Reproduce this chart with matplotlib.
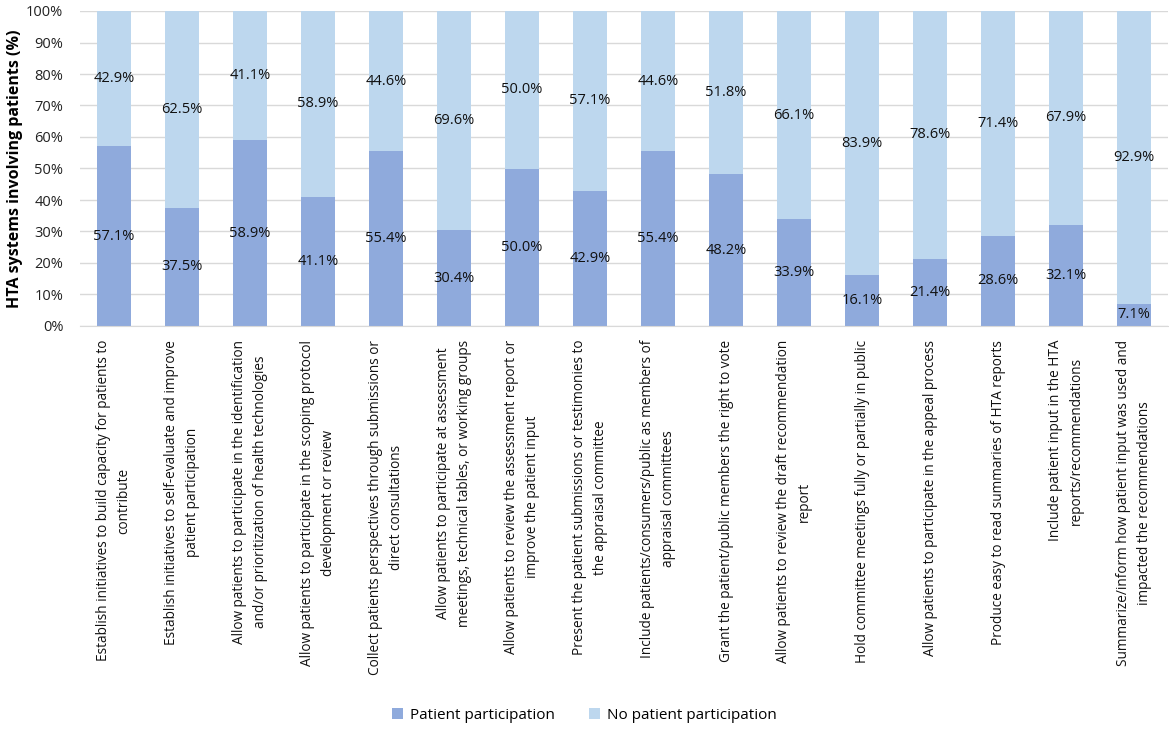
import numpy as np
import matplotlib.pyplot as plt

labels = [
    "Establish initiatives to build capacity for patients to\ncontribute",
    "Establish initiatives to self-evaluate and improve\npatient participation",
    "Allow patients to participate in the identification\nand/or prioritization of health technologies",
    "Allow patients to participate in the scoping protocol\ndevelopment or review",
    "Collect patients perspectives through submissions or\ndirect consultations",
    "Allow patients to participate at assessment\nmeetings, technical tables, or working groups",
    "Allow patients to review the assessment report or\nimprove the patient input",
    "Present the patient submissions or testimonies to\nthe appraisal committee",
    "Include patients/consumers/public as members of\nappraisal committees",
    "Grant the patient/public members the right to vote",
    "Allow patients to review the draft recommendation\nreport",
    "Hold committee meetings fully or partially in public",
    "Allow patients to participate in the appeal process",
    "Produce easy to read summaries of HTA reports",
    "Include patient input in the HTA\nreports/recommendations",
    "Summarize/inform how patient input was used and\nimpacted the recommendations",
]
patient = [57.1, 37.5, 58.9, 41.1, 55.4, 30.4, 50.0, 42.9, 55.4, 48.2, 33.9, 16.1, 21.4, 28.6, 32.1, 7.1]
no_patient = [42.9, 62.5, 41.1, 58.9, 44.6, 69.6, 50.0, 57.1, 44.6, 51.8, 66.1, 83.9, 78.6, 71.4, 67.9, 92.9]

dark = "#8FAADC"
light = "#BDD7EE"

plt.rcParams['font.family'] = ['Open Sans', 'DejaVu Sans']

fig = plt.figure(figsize=(11.69, 7.33), dpi=100)
ax = fig.add_axes([80/1169, 1-326/733, 1088/1169, 315/733])

x = np.arange(len(labels))
ax.bar(x, patient, width=0.5, color=dark, label="Patient participation", zorder=2)
ax.bar(x, no_patient, width=0.5, bottom=patient, color=light, label="No patient participation", zorder=2)

# value labels in the middle of each segment
for i in range(len(x)):
    ax.text(x[i], patient[i]/2, "%.1f%%" % patient[i], ha="center", va="center", fontsize=10.5, color="#111111", zorder=3)
    ax.text(x[i], patient[i] + no_patient[i]/2, "%.1f%%" % no_patient[i], ha="center", va="center", fontsize=10.5, color="#111111", zorder=3)

ax.set_xlim(-0.5, len(x) - 0.5)
ax.set_ylim(0, 100)
ax.set_yticks(np.arange(0, 101, 10))
ax.set_yticklabels(["%d%%" % v for v in range(0, 101, 10)], fontsize=10.5, color="#222222")
ax.yaxis.grid(True, color="#D9D9D9", linewidth=1, zorder=0)
ax.tick_params(axis="both", length=0)
ax.tick_params(axis="y", pad=12)
ax.set_xticks(x)
ax.set_xticklabels(labels, rotation=90, fontsize=9.8, color="#111111", ha="center", va="top",
                   multialignment="center", linespacing=1.5)
ax.tick_params(axis="x", pad=10)
for s in ["top", "right", "left"]:
    ax.spines[s].set_visible(False)
ax.spines["bottom"].set_color("#D9D9D9")
ax.set_ylabel("HTA systems involving patients (%)", fontsize=11.5, fontweight="bold")
ax.yaxis.set_label_coords(-0.052, 0.5)

fig.legend(loc="lower center", bbox_to_anchor=(0.5, -0.005), ncol=2, frameon=False,
           fontsize=11, handlelength=0.7, handleheight=0.7, columnspacing=2.2, handletextpad=0.5)

fig.savefig("out.png", dpi=100)
